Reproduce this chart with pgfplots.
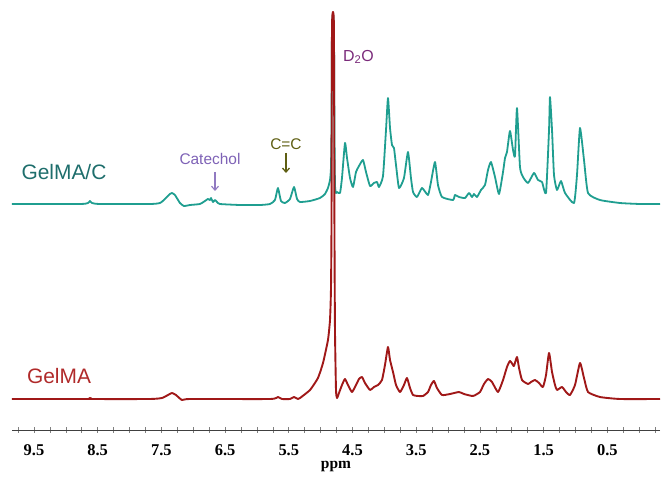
\documentclass[border=0pt]{standalone}
\usepackage{pgfplots}
\pgfplotsset{compat=1.18}
\usepackage{fontspec}
\setmainfont{Liberation Sans}
\newfontfamily\timesfont{Liberation Serif}
\usetikzlibrary{arrows.meta}
\definecolor{cTeal}{HTML}{1F9E90}
\definecolor{cTealTxt}{HTML}{1E6E6C}
\definecolor{cRed}{HTML}{A01818}
\definecolor{cRedTxt}{HTML}{B02A2A}
\definecolor{cPurple}{HTML}{7A2A7A}
\definecolor{cLilac}{HTML}{7E62B6}
\definecolor{cOlive}{HTML}{5E5E12}

\pgfplotstableread{
ppm y
9.845 226
8.778 226
8.652 227
8.621 229
8.590 227
8.464 226
7.679 226
7.522 227
7.444 231
7.365 236
7.334 237
7.287 235
7.208 227
7.145 224
7.051 225
6.894 226
6.816 229
6.769 231
6.737 230
6.721 232
6.690 228
6.659 230
6.627 228
6.580 226
6.266 225
5.952 225
5.795 226
5.717 230
5.670 242
5.623 229
5.560 227
5.481 231
5.418 243
5.371 231
5.324 228
5.167 229
5.010 232
4.932 236
4.885 242
4.853 250
4.838 262
4.830 300
4.822 400
4.806 416
4.791 400
4.783 300
4.775 245
4.759 237
4.743 238
4.696 237
4.665 252
4.618 287
4.586 272
4.539 252
4.492 243
4.445 258
4.398 264
4.335 270
4.288 258
4.225 244
4.163 247
4.115 248
4.084 243
4.021 254
3.974 300
3.943 332
3.911 302
3.880 285
3.849 282
3.817 265
3.770 242
3.692 252
3.629 278
3.582 252
3.550 238
3.488 233
3.409 242
3.315 235
3.268 248
3.205 268
3.158 245
3.095 233
2.922 230
2.891 235
2.828 233
2.734 232
2.671 237
2.624 233
2.593 236
2.546 233
2.483 240
2.420 245
2.373 260
2.326 268
2.263 253
2.200 236
2.137 258
2.106 272
2.075 278
2.028 299
1.980 280
1.949 274
1.918 322
1.871 263
1.823 253
1.745 247
1.651 257
1.588 250
1.525 248
1.462 237
1.415 300
1.400 333
1.368 300
1.337 255
1.290 240
1.227 249
1.164 237
1.023 227
0.976 255
0.929 302
0.866 270
0.803 237
0.615 230
0.301 227
-0.013 226
-0.327 226
}\gelmac

\pgfplotstableread{
ppm y
9.845 31
8.652 31
8.621 32
8.590 31
7.679 31
7.491 32
7.396 35
7.334 37
7.271 35
7.177 30
7.051 31
5.795 31
5.670 33
5.607 31
5.481 31
5.418 33
5.356 31
5.324 32
5.167 40
5.042 52
4.963 67
4.885 90
4.853 110
4.838 140
4.830 200
4.822 400
4.806 418
4.791 400
4.783 200
4.775 100
4.759 40
4.743 32
4.712 37
4.665 45
4.618 51
4.571 45
4.508 38
4.445 45
4.398 51
4.351 53
4.304 47
4.225 40
4.163 43
4.100 45
4.037 50
3.990 65
3.943 83
3.911 70
3.864 58
3.817 45
3.754 38
3.692 45
3.645 52
3.597 42
3.550 35
3.472 34
3.393 34
3.315 38
3.268 45
3.221 49
3.174 42
3.095 35
2.969 36
2.828 38
2.750 36
2.608 34
2.499 38
2.436 46
2.373 51
2.310 48
2.216 38
2.137 50
2.075 63
2.028 69
1.980 65
1.965 64
1.918 73
1.886 62
1.839 50
1.745 46
1.698 48
1.635 50
1.572 47
1.510 43
1.462 55
1.415 77
1.368 58
1.321 45
1.290 40
1.211 43
1.148 38
1.086 35
1.007 45
0.929 67
0.866 52
0.803 38
0.615 33
0.301 31
-0.327 31
}\gelma

\begin{document}
\begin{tikzpicture}
\begin{axis}[
  at={(12bp,47bp)}, anchor=south west,
  scale only axis, width=648bp, height=430bp,
  x dir=reverse, xmin=-0.327, xmax=9.845,
  ymin=0, ymax=430,
  axis x line=bottom, axis y line=none,
  x axis line style={-, draw=black!75, line width=0.8pt},
  xtick={0.5,1.5,...,9.5},
  minor xtick={-0.25,0,...,9.75},
  tick align=center,
  major tick length=5bp, minor tick length=5bp,
  every tick/.style={draw=black!50, line width=0.6pt},
  xticklabel style={anchor=base, yshift=-23bp,
    font=\timesfont\bfseries\fontsize{16.5}{18}\selectfont},
  /pgf/number format/assume math mode=true,
  /pgf/number format/fixed, /pgf/number format/precision=1,
  /pgf/number format/fixed zerofill,
  xlabel={ppm},
  xlabel style={at={(axis description cs:0.5,0)}, anchor=base, yshift=-38bp,
    font=\timesfont\bfseries\fontsize{15.5}{18}\selectfont},
  clip=false,
]
\addplot[cTeal, line width=1.8bp, line join=round, smooth, tension=0.3] table[x=ppm,y=y] {\gelmac};
\addplot[cRed, line width=1.9bp, line join=round, smooth, tension=0.3] table[x=ppm,y=y] {\gelma};

\node[cTealTxt, font=\fontsize{21}{24}\selectfont] at (axis cs:9.029,258) {GelMA/C};
\node[cRedTxt, font=\fontsize{21}{24}\selectfont] at (axis cs:9.107,54) {GelMA};
\node[cLilac, font=\fontsize{15.5}{18}\selectfont] at (axis cs:6.737,271) {Catechol};
\draw[cLilac!85, line width=1.1bp, -{Straight Barb[length=4bp,width=7bp]}] (axis cs:6.658,258) -- (axis cs:6.658,239);
\node[cOlive, font=\fontsize{15.5}{18}\selectfont] at (axis cs:5.544,286) {C=C};
\draw[cOlive, line width=1.3bp, -{Straight Barb[length=4bp,width=7bp]}] (axis cs:5.544,277) -- (axis cs:5.544,257);
\node[cPurple, anchor=west, inner sep=0pt, font=\fontsize{16}{18}\selectfont] at (axis cs:4.649,373) {D\textsubscript{2}O};
\end{axis}
\pgfresetboundingbox
\path (0,0) rectangle (661bp,477bp);
\end{tikzpicture}
\end{document}
